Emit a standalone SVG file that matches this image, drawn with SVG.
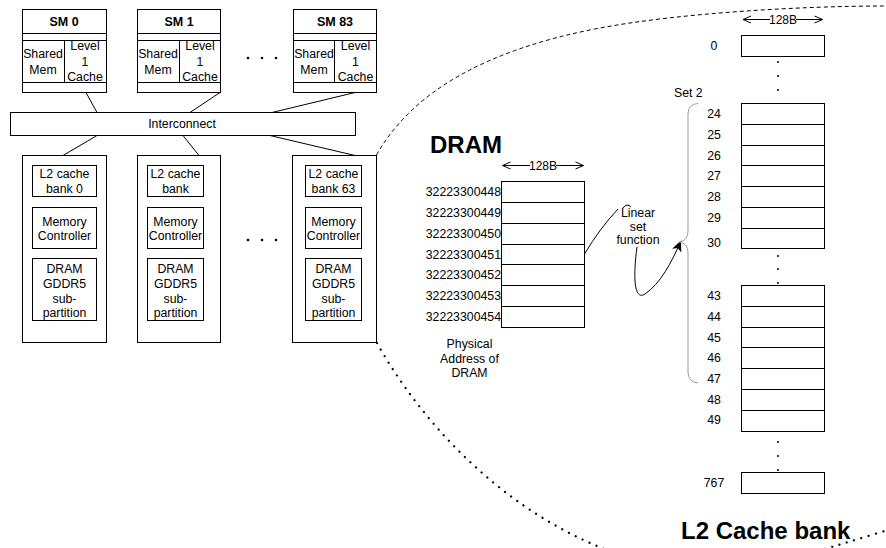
<svg xmlns="http://www.w3.org/2000/svg" width="886" height="548" viewBox="0 0 886 548">
<style>
  .bx{fill:#fff;stroke:#000;stroke-width:1}
  .ln{fill:none;stroke:#000;stroke-width:1}
  .t{font-family:"Liberation Sans",Arial,sans-serif;font-size:12.3px;fill:#000;text-anchor:middle}
  .tb{font-family:"Liberation Sans",Arial,sans-serif;font-size:12.5px;font-weight:bold;fill:#000;text-anchor:middle}
  .big{font-family:"Liberation Sans",Arial,sans-serif;font-size:24px;font-weight:bold;fill:#000}
  .r{text-anchor:end}
  .s{text-anchor:start}
  .dot{fill:#000}
  .dotted{fill:none;stroke:#000;stroke-width:2.2;stroke-dasharray:0.1,7.5;stroke-linecap:round}
</style>
<defs>
  <marker id="open" viewBox="0 0 10 10" refX="9" refY="5" markerWidth="10" markerHeight="10" markerUnits="userSpaceOnUse" orient="auto">
    <path d="M1,1.5 L9,5 L1,8.5" fill="none" stroke="#000" stroke-width="1"/>
  </marker>
  <marker id="solid" viewBox="0 0 10 10" refX="9" refY="5" markerWidth="11" markerHeight="11" markerUnits="userSpaceOnUse" orient="auto">
    <path d="M0,0.5 L10,5 L0,9.5 L2.5,5 Z" fill="#000"/>
  </marker>
</defs>

<!-- zoom curves -->
<g id="zoom-outline">
  <path d="M376.5,155 Q430,60 600,28 C680,13 800,6 886,6" fill="none" stroke="#000" stroke-width="1" stroke-dasharray="4,3"/>
  <path class="dotted" d="M377,343 C420,420 500,510 612,552"/>
  <path class="dotted" d="M818,551 Q852,541 888,530"/>
</g>

<!-- SMs -->
<g id="sm0">
  <rect class="bx" x="22.5" y="9.5" width="84" height="83"/>
  <path class="ln" d="M22.5,33.5H106.5M22.5,40.5H106.5M22.5,82.5H106.5M64.5,40.5V82.5"/>
  <text class="tb" x="64" y="25.5">SM 0</text>
  <text class="t" x="43" y="57.5">Shared</text><text class="t" x="43" y="73.5">Mem</text>
  <text class="t" x="85" y="49.5">Level</text><text class="t" x="85" y="65.5">1</text><text class="t" x="85" y="81">Cache</text>
</g>
<g id="sm1">
  <rect class="bx" x="137.5" y="9.5" width="83" height="83"/>
  <path class="ln" d="M137.5,33.5H220.5M137.5,40.5H220.5M137.5,82.5H220.5M179.5,40.5V82.5"/>
  <text class="tb" x="179" y="25.5">SM 1</text>
  <text class="t" x="158" y="57.5">Shared</text><text class="t" x="158" y="73.5">Mem</text>
  <text class="t" x="200" y="49.5">Level</text><text class="t" x="200" y="65.5">1</text><text class="t" x="200" y="81">Cache</text>
</g>
<g id="sm83">
  <rect class="bx" x="293.5" y="9.5" width="83" height="83"/>
  <path class="ln" d="M293.5,33.5H376.5M293.5,40.5H376.5M293.5,82.5H376.5M334.5,40.5V82.5"/>
  <text class="tb" x="335" y="25.5">SM 83</text>
  <text class="t" x="314" y="57.5">Shared</text><text class="t" x="314" y="73.5">Mem</text>
  <text class="t" x="355.5" y="49.5">Level</text><text class="t" x="355.5" y="65.5">1</text><text class="t" x="355.5" y="81">Cache</text>
</g>
<g id="sm-dots">
  <circle class="dot" cx="248" cy="58" r="1.3"/><circle class="dot" cx="262" cy="58" r="1.3"/><circle class="dot" cx="276" cy="58" r="1.3"/>
</g>

<!-- Interconnect -->
<g id="interconnect">
  <rect class="bx" x="10.5" y="112.5" width="345" height="23"/>
  <text class="t" x="182" y="128">Interconnect</text>
</g>

<!-- Banks -->
<g id="bank0">
  <rect class="bx" x="22.5" y="155.5" width="84" height="187"/>
  <rect class="bx" x="32.5" y="165.5" width="64" height="31"/>
  <text class="t" x="64.5" y="177.5">L2 cache</text><text class="t" x="64.5" y="192.5">bank 0</text>
  <rect class="bx" x="32.5" y="207.5" width="64" height="41"/>
  <text class="t" x="64.5" y="225.5">Memory</text><text class="t" x="64.5" y="239.5">Controller</text>
  <rect class="bx" x="32.5" y="258.5" width="64" height="62"/>
  <text class="t" x="64.5" y="272.5">DRAM</text><text class="t" x="64.5" y="287.5">GDDR5</text><text class="t" x="64.5" y="302.5">sub-</text><text class="t" x="64.5" y="316.5">partition</text>
</g>
<g id="bank1">
  <rect class="bx" x="137.5" y="155.5" width="83" height="187"/>
  <rect class="bx" x="147.5" y="165.5" width="56" height="31"/>
  <text class="t" x="175.5" y="177.5">L2 cache</text><text class="t" x="175.5" y="192.5">bank</text>
  <rect class="bx" x="147.5" y="207.5" width="56" height="41"/>
  <text class="t" x="175.5" y="225.5">Memory</text><text class="t" x="175.5" y="239.5">Controller</text>
  <rect class="bx" x="147.5" y="258.5" width="56" height="62"/>
  <text class="t" x="175.5" y="272.5">DRAM</text><text class="t" x="175.5" y="287.5">GDDR5</text><text class="t" x="175.5" y="302.5">sub-</text><text class="t" x="175.5" y="316.5">partition</text>
</g>
<g id="bank63">
  <rect class="bx" x="292.5" y="155.5" width="84" height="187"/>
  <rect class="bx" x="305.5" y="165.5" width="56" height="31"/>
  <text class="t" x="333.5" y="177.5">L2 cache</text><text class="t" x="333.5" y="192.5">bank 63</text>
  <rect class="bx" x="305.5" y="207.5" width="56" height="41"/>
  <text class="t" x="333.5" y="225.5">Memory</text><text class="t" x="333.5" y="239.5">Controller</text>
  <rect class="bx" x="305.5" y="258.5" width="56" height="62"/>
  <text class="t" x="333.5" y="272.5">DRAM</text><text class="t" x="333.5" y="287.5">GDDR5</text><text class="t" x="333.5" y="302.5">sub-</text><text class="t" x="333.5" y="316.5">partition</text>
</g>
<g id="bank-dots">
  <circle class="dot" cx="248" cy="240" r="1.3"/><circle class="dot" cx="262" cy="240" r="1.3"/><circle class="dot" cx="276" cy="240" r="1.3"/>
</g>

<!-- connectors -->
<g id="connectors">
  <path class="ln" d="M86,92.5L97,112.5M220,92.5L190,112.5M355,92.5L272,112.5"/>
  <path class="ln" d="M97,135.5L63,155.5M183,135.5L199,155.5M270,135.5L355,155.5"/>
  <path class="ln" d="M584.5,254 Q600,228 618,209"/>
  <path class="ln" d="M623,208 Q627,202.5 631,207"/>
  <path class="ln" d="M637,247 C632,285 636,300 645,294 C660,284 672,262 680.5,241.5" marker-end="url(#solid)"/>
  <path d="M698,103.5 Q688,104 688,114 V231 Q688,241 679,242 Q688,243 688,253 V372 Q688,382 698,383" fill="none" stroke="#999" stroke-width="1"/>
</g>

<!-- DRAM -->
<g id="dram">
  <text class="big" x="430" y="153">DRAM</text>
  <path class="ln" d="M530,165.5H502.5" marker-end="url(#open)"/>
  <path class="ln" d="M556,165.5H583.5" marker-end="url(#open)"/>
  <text class="t" x="543" y="170" style="font-size:12px">128B</text>
  <rect class="bx" x="501.5" y="181.5" width="83" height="146"/>
  <path class="ln" d="M501.5,202.5H584.5M501.5,223.5H584.5M501.5,244.5H584.5M501.5,264.5H584.5M501.5,285.5H584.5M501.5,306.5H584.5"/>
  <text class="t r" x="501" y="196">32223300448</text>
  <text class="t r" x="501" y="217">32223300449</text>
  <text class="t r" x="501" y="238">32223300450</text>
  <text class="t r" x="501" y="258.5">32223300451</text>
  <text class="t r" x="501" y="279">32223300452</text>
  <text class="t r" x="501" y="300">32223300453</text>
  <text class="t r" x="501" y="321">32223300454</text>
  <text class="t" x="469.5" y="347.5">Physical</text>
  <text class="t" x="469.5" y="362.5">Address of</text>
  <text class="t" x="469.5" y="376.5">DRAM</text>
</g>

<g id="linear-set-function">
  <text class="t" x="638" y="217">Linear</text>
  <text class="t" x="638" y="231">set</text>
  <text class="t" x="638" y="244">function</text>
</g>

<!-- L2 Cache bank -->
<g id="l2bank">
  <path class="ln" d="M770,19.5H743" marker-end="url(#open)"/>
  <path class="ln" d="M796,19.5H822.5" marker-end="url(#open)"/>
  <text class="t" x="783" y="24" style="font-size:12px">128B</text>
  <rect class="bx" x="741.5" y="35.5" width="83" height="21"/>
  <text class="t" x="714" y="49.5">0</text>
  <circle class="dot" cx="778" cy="62" r="1"/><circle class="dot" cx="778" cy="76" r="1"/><circle class="dot" cx="778" cy="90" r="1"/>
  <text class="t s" x="674" y="96.5">Set 2</text>
  <rect class="bx" x="741.5" y="103.5" width="83" height="145"/>
  <path class="ln" d="M741.5,124.5H824.5M741.5,145.5H824.5M741.5,165.5H824.5M741.5,186.5H824.5M741.5,207.5H824.5M741.5,228.5H824.5"/>
  <text class="t" x="714" y="118">24</text>
  <text class="t" x="714" y="139">25</text>
  <text class="t" x="714" y="159.5">26</text>
  <text class="t" x="714" y="180">27</text>
  <text class="t" x="714" y="201">28</text>
  <text class="t" x="714" y="222">29</text>
  <text class="t" x="714" y="246.5">30</text>
  <circle class="dot" cx="778" cy="256" r="1"/><circle class="dot" cx="778" cy="269" r="1"/><circle class="dot" cx="778" cy="283" r="1"/>
  <rect class="bx" x="741.5" y="285.5" width="83" height="146"/>
  <path class="ln" d="M741.5,306.5H824.5M741.5,327.5H824.5M741.5,347.5H824.5M741.5,368.5H824.5M741.5,389.5H824.5M741.5,410.5H824.5"/>
  <text class="t" x="714" y="300">43</text>
  <text class="t" x="714" y="321">44</text>
  <text class="t" x="714" y="341.5">45</text>
  <text class="t" x="714" y="362">46</text>
  <text class="t" x="714" y="383">47</text>
  <text class="t" x="714" y="403.5">48</text>
  <text class="t" x="714" y="424">49</text>
  <circle class="dot" cx="778" cy="442" r="1"/><circle class="dot" cx="778" cy="456" r="1"/><circle class="dot" cx="778" cy="470" r="1"/>
  <rect class="bx" x="741.5" y="472.5" width="83" height="21"/>
  <text class="t" x="714" y="486.5">767</text>
  <text class="big" x="681" y="539">L2 Cache bank</text>
</g>
</svg>
